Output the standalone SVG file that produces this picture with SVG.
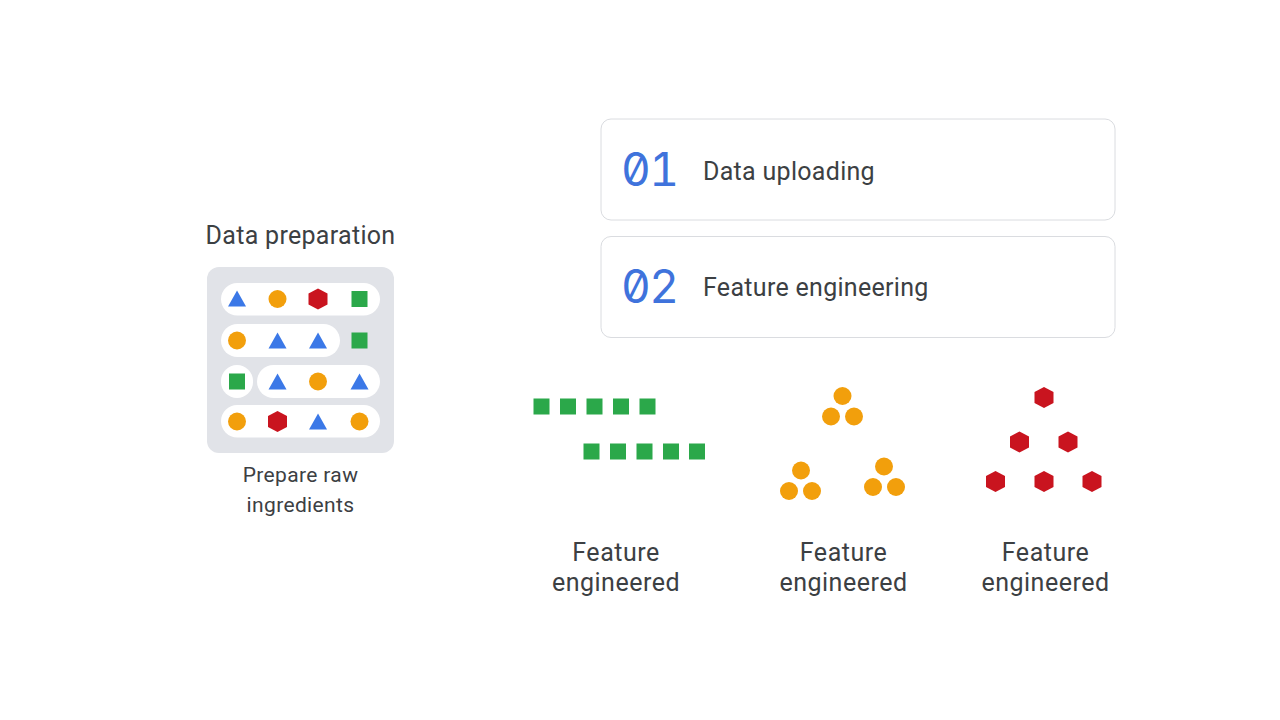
<svg xmlns="http://www.w3.org/2000/svg" width="1280" height="720" viewBox="0 0 1280 720">
<style>
text{font-family:Roboto,"Noto Sans",sans-serif;fill:#3c4043;text-anchor:middle}
.h{font-size:25px;letter-spacing:.3px}
.s{font-size:21px;letter-spacing:.35px}
.l{font-size:25px;letter-spacing:.5px}
.card{fill:#fff;stroke:#dadce0;stroke-width:1}
.num{font-family:Inter,"DejaVu Sans Mono",monospace;font-size:46px;font-weight:400;fill:#3f73dc;text-anchor:start;letter-spacing:-1.500px;font-variant-numeric:slashed-zero tabular-nums;font-feature-settings:"zero" 1,"tnum" 1}
.lab{text-anchor:start;font-size:25px;letter-spacing:.3px}
.pill{fill:#fff}
.b{fill:#3b78e7}.o{fill:#f29f0c}.r{fill:#c9141f}.g{fill:#2ba84a}
</style>
<defs>
<polygon id="tri" points="0,-8.500 9,7.500 -9,7.500"/>
<circle id="c" r="9"/>
<polygon id="hex" points="0,-10.500 9.500,-5.500 9.500,5.500 0,10.500 -9.500,5.500 -9.500,-5.500"/>
<rect id="sq" x="-8" y="-8" width="16" height="16"/>
</defs>
<rect width="1280" height="720" fill="#fff"/>
<g id="data-preparation">
<text class="h" x="300.500" y="243.500">Data preparation</text>
<rect x="207" y="267" width="187" height="186" rx="12" fill="#e1e3e8"/>
<rect class="pill" x="221" y="283" width="159" height="32.500" rx="16.250"/>
<rect class="pill" x="221" y="324" width="119" height="33" rx="16.500"/>
<rect class="pill" x="221" y="365" width="32" height="33" rx="16"/>
<rect class="pill" x="257" y="365" width="123" height="33" rx="16.500"/>
<rect class="pill" x="221" y="405" width="159" height="32.500" rx="16.250"/>
<use href="#tri" class="b" x="237" y="299"/><use href="#c" class="o" x="277.500" y="299"/><use href="#hex" class="r" x="318" y="299"/><use href="#sq" class="g" x="359.500" y="299"/>
<use href="#c" class="o" x="237" y="340.500"/><use href="#tri" class="b" x="277.500" y="341"/><use href="#tri" class="b" x="318" y="341"/><use href="#sq" class="g" x="359.500" y="340.500"/>
<use href="#sq" class="g" x="237" y="381.500"/><use href="#tri" class="b" x="277.500" y="382"/><use href="#c" class="o" x="318" y="381.500"/><use href="#tri" class="b" x="359.500" y="382"/>
<use href="#c" class="o" x="237" y="421.500"/><use href="#hex" class="r" x="277.500" y="421.500"/><use href="#tri" class="b" x="318" y="422"/><use href="#c" class="o" x="359.500" y="421.500"/>
<text class="s" x="300.500" y="482">Prepare raw</text>
<text class="s" x="300.500" y="511.500">ingredients</text>
</g>
<g id="step-01">
<rect class="card" x="601" y="119" width="514" height="101" rx="10"/>
<text class="num" x="621" y="186">01</text>
<text class="lab" x="703" y="179.500">Data uploading</text>
</g>
<g id="step-02">
<rect class="card" x="601" y="236.500" width="514" height="101" rx="10"/>
<text class="num" x="621" y="303">02</text>
<text class="lab" x="703" y="295.500">Feature engineering</text>
</g>
<g id="feature-squares">
<use href="#sq" class="g" x="541.500" y="406.500"/><use href="#sq" class="g" x="568" y="406.500"/><use href="#sq" class="g" x="594.500" y="406.500"/><use href="#sq" class="g" x="621" y="406.500"/><use href="#sq" class="g" x="647.500" y="406.500"/>
<use href="#sq" class="g" x="591.500" y="451.500"/><use href="#sq" class="g" x="618" y="451.500"/><use href="#sq" class="g" x="644.500" y="451.500"/><use href="#sq" class="g" x="671" y="451.500"/><use href="#sq" class="g" x="697" y="451.500"/>
<text class="l" x="616" y="561">Feature</text>
<text class="l" x="616" y="590.500">engineered</text>
</g>
<g id="feature-circles">
<use href="#c" class="o" x="842.500" y="396"/><use href="#c" class="o" x="831" y="416.500"/><use href="#c" class="o" x="854" y="416.500"/>
<use href="#c" class="o" x="801" y="470.500"/><use href="#c" class="o" x="789" y="491"/><use href="#c" class="o" x="812" y="491"/>
<use href="#c" class="o" x="884" y="466.500"/><use href="#c" class="o" x="873" y="487"/><use href="#c" class="o" x="896" y="487"/>
<text class="l" x="843.500" y="561">Feature</text>
<text class="l" x="843.500" y="590.500">engineered</text>
</g>
<g id="feature-hexagons">
<use href="#hex" class="r" x="1044" y="397.500"/><use href="#hex" class="r" x="1019.500" y="442"/><use href="#hex" class="r" x="1068" y="442"/>
<use href="#hex" class="r" x="995.500" y="481.500"/><use href="#hex" class="r" x="1044" y="481.500"/><use href="#hex" class="r" x="1092" y="481.500"/>
<text class="l" x="1045.500" y="561">Feature</text>
<text class="l" x="1045.500" y="590.500">engineered</text>
</g>
<g id="connectors"/>
</svg>
